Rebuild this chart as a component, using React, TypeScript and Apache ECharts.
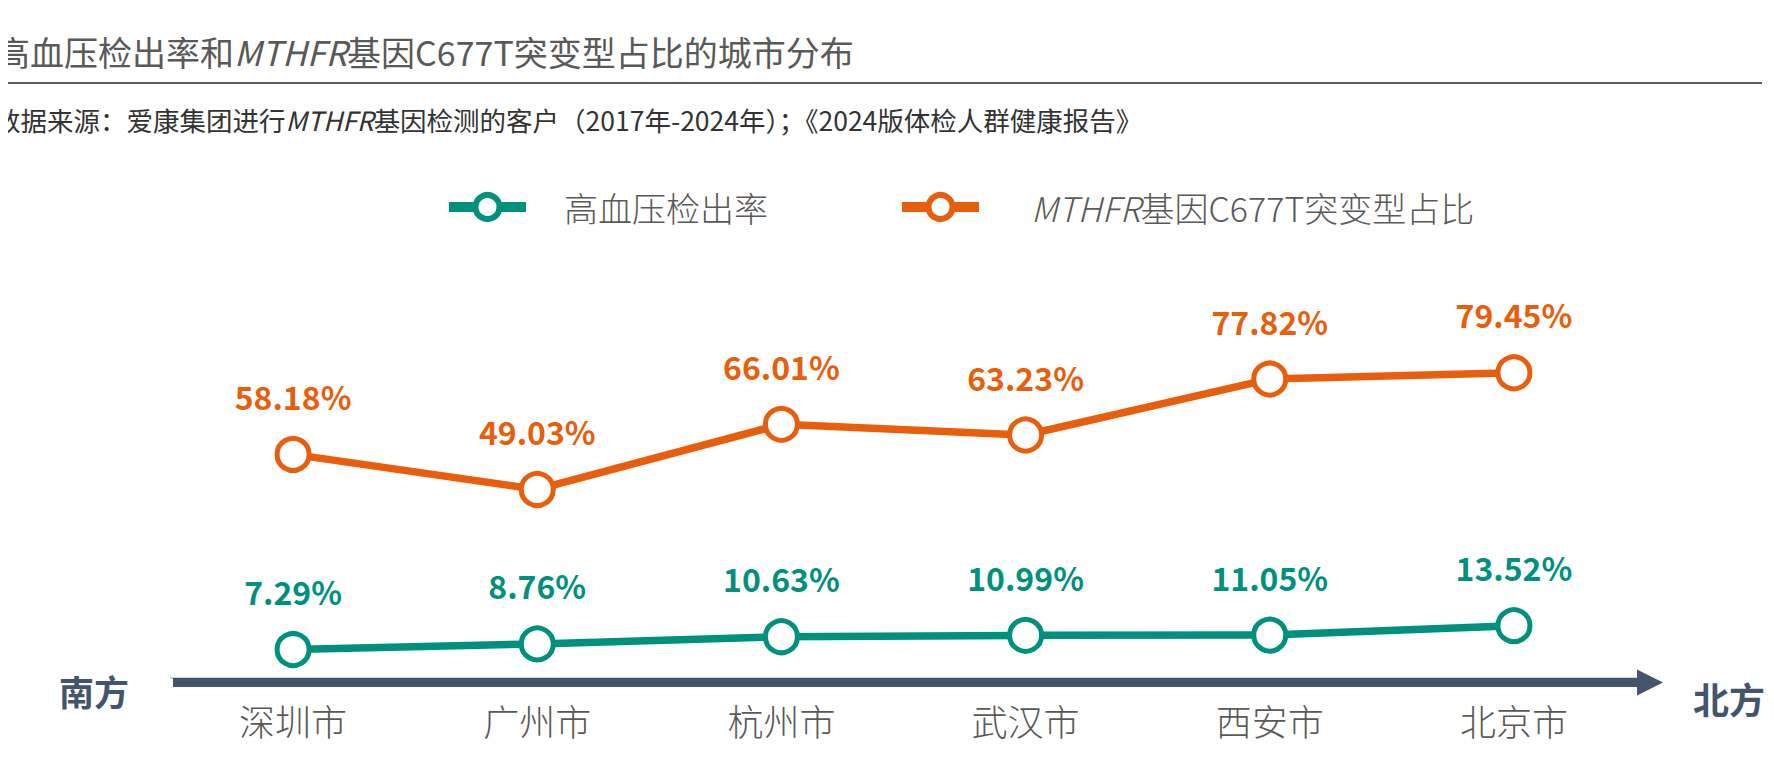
import React, { useEffect, useRef } from "react";
import * as echarts from "echarts";

const cities = ["深圳市", "广州市", "杭州市", "武汉市", "西安市", "北京市"];
const hypertension = [7.29, 8.76, 10.63, 10.99, 11.05, 13.52];
const mthfr = [58.18, 49.03, 66.01, 63.23, 77.82, 79.45];
const seriesNames = ["高血压检出率", "MTHFR基因C677T突变型占比"];

const TEAL = "#00907E";
const ORANGE = "#E85E0C";
const SLATE = "#44546A";
const FONT = '"Noto Sans CJK SC", "Noto Sans", sans-serif';

export default function App() {
  const ref = useRef<HTMLDivElement>(null);
  useEffect(() => {
    if (!ref.current) return;
    const chart = echarts.init(ref.current, null, { renderer: "svg" });
    const mkSeries = (name: string, data: number[], color: string) => ({
      name,
      type: "line",
      data,
      symbol: "circle",
      symbolSize: 32,
      lineStyle: { color, width: 7.5 },
      itemStyle: { color: "#ffffff", borderColor: color, borderWidth: 5 },
      label: {
        show: true,
        position: "top",
        distance: 24,
        formatter: (p: any) => p.value.toFixed(2) + "%",
        color,
        fontSize: 32,
        fontWeight: "bold",
        fontFamily: FONT,
      },
      z: 3,
    });
    const legendText = (pad: number) => ({
      color: "#595959",
      fontSize: 34,
      fontWeight: 300,
      fontFamily: FONT,
      padding: [0, 0, 0, pad],
      rich: {
        i: {
          fontStyle: "italic",
          color: "#595959",
          fontSize: 34,
          fontWeight: 300,
          fontFamily: FONT,
        },
      },
    });
    const legendCommon = {
      top: 185,
      itemWidth: 77,
      itemHeight: 30,
      lineStyle: { width: 10 },
      itemStyle: { borderWidth: 6 },
    };
    chart.setOption({
      animation: false,
      backgroundColor: "#ffffff",
      grid: { left: 171, right: 138, top: 294, bottom: 93.5 },
      legend: [
        {
          ...legendCommon,
          data: [seriesNames[0]],
          left: 439,
          textStyle: legendText(33),
        },
        {
          ...legendCommon,
          data: [seriesNames[1]],
          left: 892,
          formatter: () => "{i|MTHFR}基因C677T突变型占比",
          textStyle: legendText(47),
        },
      ],
      xAxis: {
        type: "category",
        data: cities,
        boundaryGap: true,
        axisLine: { show: true, lineStyle: { color: "#C9CED6", width: 2 } },
        axisTick: { show: false },
        axisLabel: {
          margin: 24,
          color: "#595959",
          fontSize: 36,
          fontWeight: 300,
          fontFamily: FONT,
        },
      },
      yAxis: {
        type: "value",
        min: 0,
        max: 100,
        show: false,
        splitLine: { show: false },
      },
      series: [
        mkSeries(seriesNames[0], hypertension, TEAL),
        mkSeries(seriesNames[1], mthfr, ORANGE),
      ],
      graphic: [
        {
          type: "text",
          x: -4,
          y: 51,
          style: {
            text: "高血压检出率和{i|MTHFR}基因C677T突变型占比的城市分布",
            fill: "#595959",
            fontSize: 34,
            fontFamily: FONT,
            verticalAlign: "middle",
            rich: { i: { fontStyle: "italic", fill: "#595959", fontSize: 34, fontFamily: FONT } },
          },
        },
        {
          type: "line",
          shape: { x1: 0, y1: 83, x2: 1762, y2: 83 },
          style: { stroke: "#262626", lineWidth: 1.5 },
        },
        {
          type: "text",
          x: -6,
          y: 119,
          style: {
            text: "数据来源：爱康集团进行{i|MTHFR}基因检测的客户（2017年-2024年）；《2024版体检人群健康报告》",
            fill: "#333333",
            fontSize: 26.5,
            fontFamily: FONT,
            verticalAlign: "middle",
            rich: { i: { fontStyle: "italic", fill: "#333333", fontSize: 26.5, fontFamily: FONT } },
          },
        },
        {
          type: "rect",
          shape: { x: 173, y: 678, width: 1467, height: 9 },
          style: { fill: SLATE },
          z: 1,
        },
        {
          type: "polygon",
          shape: { points: [[1637, 669.5], [1663, 682.5], [1637, 695.5]] },
          style: { fill: SLATE },
          z: 1,
        },
        {
          type: "text",
          x: 59,
          y: 690,
          style: {
            text: "南方",
            fill: SLATE,
            fontSize: 35,
            fontWeight: "bold",
            fontFamily: FONT,
            verticalAlign: "middle",
          },
        },
        {
          type: "text",
          x: 1693,
          y: 698,
          style: {
            text: "北方",
            fill: SLATE,
            fontSize: 36,
            fontWeight: "bold",
            fontFamily: FONT,
            verticalAlign: "middle",
          },
        },
      ],
    });
    return () => chart.dispose();
  }, []);
  return <div ref={ref} style={{ width: 1774, height: 771, margin: -8 }} />;
}
